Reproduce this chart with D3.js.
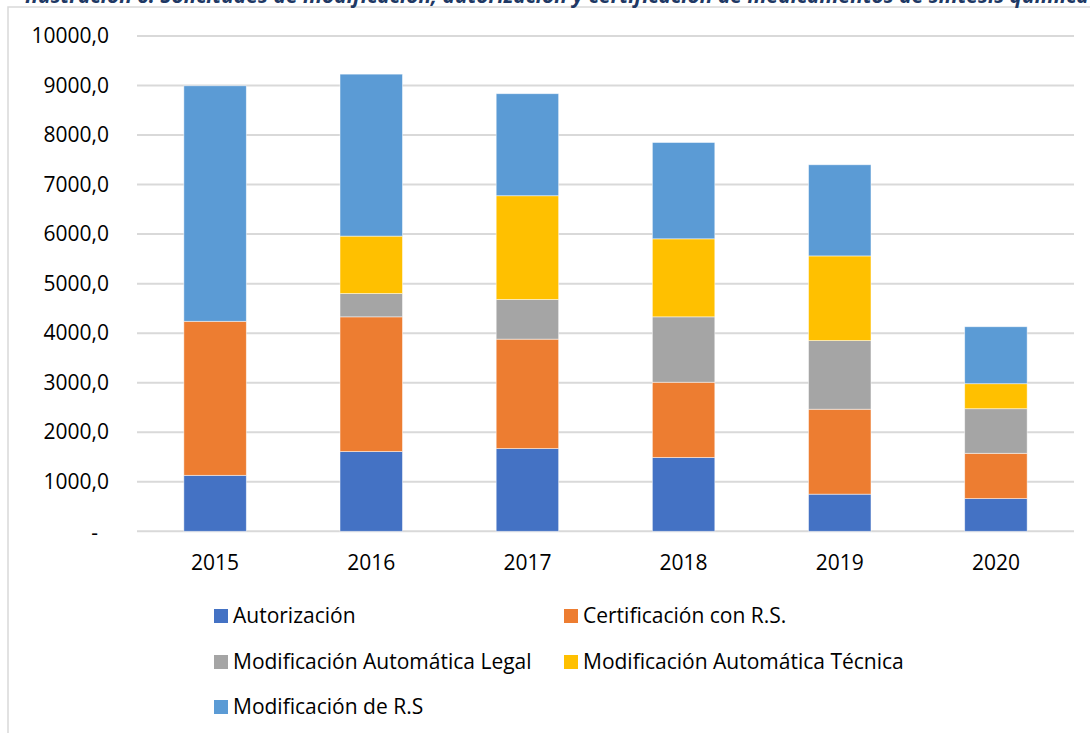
<!DOCTYPE html>
<html>
<head>
<meta charset="utf-8">
<script src="https://cdn.jsdelivr.net/npm/d3@7"></script>
<style>
  body { margin: 0; background: #fff; }
  text { font-family: "Open Sans", "Noto Sans", sans-serif; fill: #000; }
</style>
</head>
<body>
<div id="container"></div>
<script>
// data
var years = ["2015", "2016", "2017", "2018", "2019", "2020"];
var seriesNames = ["Autorización", "Certificación con R.S.", "Modificación Automática Legal", "Modificación Automática Técnica", "Modificación de R.S"];
var autorizacion = [1130, 1610, 1670, 1490, 750, 660];
var certificacion = [3110, 2720, 2210, 1520, 1715, 915];
var modLegal = [0, 470, 800, 1320, 1385, 900];
var modTecnica = [0, 1160, 2095, 1575, 1710, 505];
var modRS = [4755, 3270, 2060, 1945, 1840, 1150];
var yTicks = [0, 1000, 2000, 3000, 4000, 5000, 6000, 7000, 8000, 9000, 10000];
var colors = ["#4472C4", "#ED7D31", "#A5A5A5", "#FFC000", "#5B9BD5"];
var title = "Ilustración 6. Solicitudes de modificación, autorización y certificación de medicamentos de síntesis química";

var width = 1090, height = 733;
var margin = { top: 36, right: 16, bottom: 201.7, left: 137 };

// build rows for the stack
var allSeries = [autorizacion, certificacion, modLegal, modTecnica, modRS];
var rows = years.map(function (y, i) {
  var r = { year: y };
  seriesNames.forEach(function (s, k) { r[s] = allSeries[k][i]; });
  return r;
});
var stacked = d3.stack().keys(seriesNames)(rows);

var svg = d3.select("#container")
  .append("svg")
  .attr("width", width)
  .attr("height", height);

// chart frame (only top and left edges are on screen)
svg.append("rect")
  .attr("x", 8).attr("y", 7)
  .attr("width", 1200).attr("height", 800)
  .attr("fill", "none")
  .attr("stroke", "#D9D9D9")
  .attr("stroke-width", 1.5);

// title, cut off at the top as in the picture
svg.append("text")
  .attr("x", 25)
  .attr("y", 2.5)
  .style("font-size", "21px")
  .style("font-weight", "bold")
  .style("font-style", "italic")
  .style("fill", "#203864")
  .text(title);

var x = d3.scaleBand()
  .domain(years)
  .range([margin.left, width - margin.right])
  .paddingInner(0.6)
  .paddingOuter(0.3);

var y = d3.scaleLinear()
  .domain([0, 10000])
  .range([height - margin.bottom, margin.top]);

// gridlines
svg.append("g")
  .selectAll("line")
  .data(yTicks)
  .enter().append("line")
  .attr("x1", margin.left)
  .attr("x2", width - margin.right)
  .attr("y1", function (d) { return y(d); })
  .attr("y2", function (d) { return y(d); })
  .attr("stroke", "#D9D9D9")
  .attr("stroke-width", 2);

// y axis labels
var yAxis = d3.axisLeft(y)
  .tickValues(yTicks)
  .tickSize(0)
  .tickPadding(28)
  .tickFormat(function (d) { return d === 0 ? "-" : d3.format(".1f")(d).replace(".", ","); });

var gy = svg.append("g")
  .attr("transform", "translate(" + margin.left + ",0)")
  .call(yAxis);
gy.select(".domain").remove();
gy.selectAll("text")
  .style("font-size", "21px")
  .style("font-family", "'Open Sans', sans-serif")
  .attr("fill", "#000");
gy.selectAll(".tick")
  .filter(function (d) { return d === 0; })
  .select("text")
  .attr("x", -39)
  .attr("dy", "0.4em");

// stacked bars
svg.append("g")
  .selectAll("g")
  .data(stacked)
  .enter().append("g")
  .attr("fill", function (d, i) { return colors[i]; })
  .selectAll("rect")
  .data(function (d) { return d; })
  .enter().append("rect")
  .attr("x", function (d) { return x(d.data.year); })
  .attr("y", function (d) { return y(d[1]); })
  .attr("width", x.bandwidth())
  .attr("height", function (d) { return y(d[0]) - y(d[1]); })
  .attr("stroke", "#ffffff")
  .attr("stroke-opacity", 0.6)
  .attr("stroke-width", 0.8);

// x axis labels
var xAxis = d3.axisBottom(x).tickSize(0).tickPadding(24);
var gx = svg.append("g")
  .attr("transform", "translate(0," + (height - margin.bottom) + ")")
  .call(xAxis);
gx.select(".domain").remove();
gx.selectAll("text")
  .style("font-size", "21px")
  .style("font-family", "'Open Sans', sans-serif")
  .attr("fill", "#000");

// legend
var legendPos = [
  [214, 609], [564, 609],
  [214, 655], [564, 655],
  [214, 700]
];
var legend = svg.append("g")
  .selectAll("g")
  .data(seriesNames)
  .enter().append("g")
  .attr("transform", function (d, i) { return "translate(" + legendPos[i][0] + "," + legendPos[i][1] + ")"; });

legend.append("rect")
  .attr("width", 14)
  .attr("height", 14)
  .attr("fill", function (d, i) { return colors[i]; });

legend.append("text")
  .attr("x", 19)
  .attr("y", 14)
  .style("font-size", "21px")
  .text(function (d) { return d; });
</script>
</body>
</html>
